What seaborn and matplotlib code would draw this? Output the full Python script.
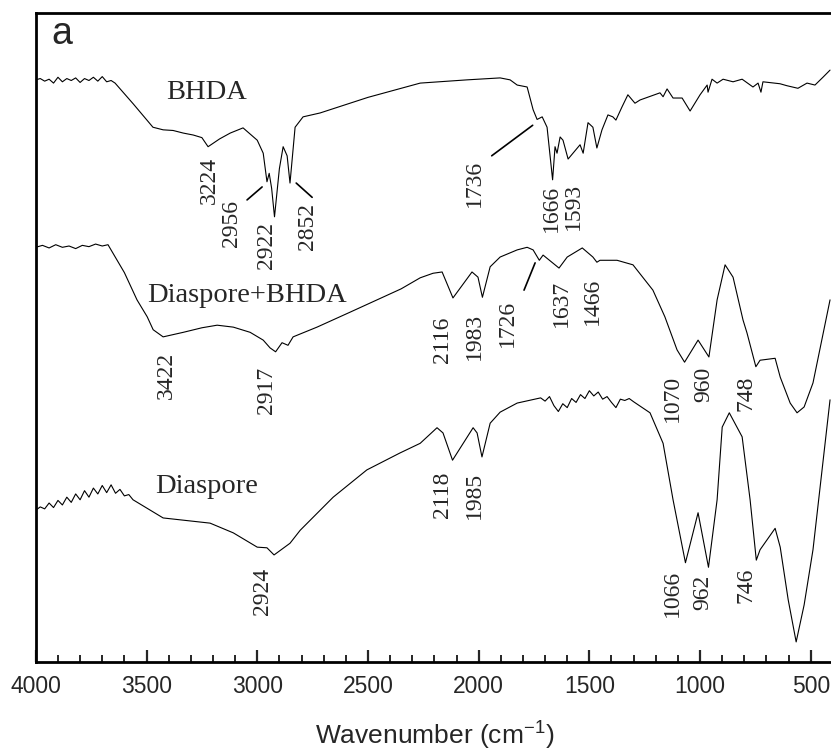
import numpy as np
import pandas as pd
import matplotlib
matplotlib.use('Agg')
import matplotlib.pyplot as plt
import seaborn as sns

# ~~~~~~~~~~~~~~~~~~~~~~~~~~~ data ~~~~~~~~~~~~~~~~~~~~~~~~~~~ #
# wavenumber (cm-1) and transmittance (a.u., traces offset)
bhda_wn = [4000, 3980, 3960, 3940, 3920, 3900, 3880, 3860, 3840, 3820, 3800, 3780, 3760,
           3740, 3720, 3700, 3680, 3660, 3642, 3560, 3471, 3425, 3380, 3334, 3289, 3250,
           3222, 3170, 3122, 3064, 3000, 2973, 2956, 2946, 2935, 2922, 2900, 2883, 2865,
           2852, 2829, 2793, 2716, 2500, 2264, 2052, 1903, 1858, 1826, 1781, 1754, 1736,
           1713, 1691, 1666, 1655, 1646, 1632, 1619, 1596, 1542, 1528, 1506, 1484, 1466,
           1443, 1416, 1394, 1380, 1353, 1326, 1294, 1271, 1181, 1167, 1149, 1122, 1081,
           1045, 1000, 968, 964, 946, 923, 896, 851, 810, 761, 738, 725, 716, 639, 608,
           558, 517, 481, 445, 413]
bhda_t = [89.7, 89.9, 89.5, 89.8, 89.2, 90.1, 89.4, 89.9, 89.6, 90.0, 89.3, 89.9, 89.6,
          90.1, 89.5, 90.2, 89.4, 89.6, 89.2, 86.0, 82.4, 82.0, 81.9, 81.5, 81.2, 80.8,
          79.4, 80.6, 81.5, 82.3, 80.4, 78.4, 74.0, 75.3, 73.0, 68.6, 76.0, 79.4, 78.0,
          73.8, 82.4, 84.0, 84.6, 87.0, 89.2, 89.7, 90.0, 89.7, 88.9, 88.6, 85.1, 83.6,
          84.0, 82.4, 74.3, 79.4, 78.4, 80.9, 80.4, 77.5, 79.7, 78.4, 83.1, 82.4, 79.2,
          82.0, 84.3, 84.0, 83.5, 85.5, 87.4, 86.1, 86.6, 87.7, 87.1, 88.3, 86.9, 86.9,
          84.9, 87.4, 88.9, 87.8, 89.8, 89.2, 89.8, 89.4, 89.8, 88.6, 89.2, 87.8, 89.4,
          89.1, 88.8, 88.4, 89.2, 88.9, 90.1, 91.2]

mix_wn = [4000, 3970, 3940, 3910, 3880, 3850, 3820, 3790, 3760, 3730, 3700, 3674, 3600,
          3543, 3497, 3470, 3425, 3334, 3250, 3181, 3108, 3032, 2973, 2942, 2917, 2888,
          2861, 2838, 2730, 2581, 2459, 2350, 2264, 2206, 2165, 2116, 2030, 2003, 1983,
          1948, 1903, 1826, 1781, 1754, 1726, 1709, 1637, 1600, 1532, 1484, 1466, 1452,
          1375, 1303, 1213, 1159, 1104, 1070, 1009, 960, 923, 887, 851, 806, 788, 748,
          729, 661, 638, 593, 562, 530, 490, 413]
mix_t = [63.9, 64.2, 63.8, 64.3, 63.9, 64.1, 63.7, 64.2, 64.0, 64.4, 64.1, 64.3, 60.0,
         55.8, 53.2, 51.2, 50.1, 50.8, 51.5, 51.9, 51.6, 50.8, 49.6, 48.4, 47.8, 49.2,
         48.8, 50.1, 51.6, 53.9, 55.8, 57.5, 59.2, 59.9, 60.1, 56.1, 60.1, 59.3, 56.2,
         60.9, 62.4, 63.5, 63.9, 63.5, 61.9, 62.7, 60.7, 62.4, 63.8, 62.4, 61.6, 61.9,
         61.9, 61.2, 57.3, 53.2, 48.1, 46.2, 49.6, 47.0, 55.8, 61.2, 59.3, 52.7, 50.7,
         45.5, 46.5, 46.8, 43.9, 39.9, 38.4, 39.3, 43.0, 55.8]

dia_wn = [4000, 3980, 3960, 3940, 3920, 3900, 3880, 3860, 3840, 3820, 3800, 3780, 3760,
          3740, 3720, 3700, 3680, 3660, 3640, 3620, 3600, 3580, 3561, 3425, 3213, 3108,
          3000, 2956, 2924, 2852, 2806, 2657, 2505, 2356, 2264, 2188, 2161, 2118, 2025,
          2007, 1985, 1948, 1903, 1826, 1720, 1700, 1680, 1660, 1640, 1620, 1600, 1580,
          1560, 1540, 1520, 1500, 1480, 1460, 1440, 1420, 1400, 1380, 1360, 1340, 1320,
          1300, 1226, 1167, 1122, 1066, 1009, 962, 923, 900, 868, 810, 774, 746, 729,
          661, 638, 602, 566, 530, 490, 413]
dia_t = [23.4, 23.9, 23.6, 24.5, 23.8, 24.9, 24.2, 25.4, 24.6, 25.9, 25.0, 26.4, 25.4,
         26.8, 25.9, 27.2, 26.1, 27.3, 26.0, 26.6, 25.6, 25.8, 25.0, 22.2, 21.4, 19.9,
         17.7, 17.6, 16.5, 18.3, 20.3, 25.4, 29.6, 32.2, 33.7, 36.1, 35.3, 31.1, 36.1,
         35.3, 31.6, 36.8, 38.5, 39.9, 40.7, 40.2, 40.9, 39.5, 38.6, 39.8, 39.2, 40.6,
         40.0, 41.2, 40.6, 41.8, 41.0, 41.6, 40.5, 40.9, 40.0, 39.2, 40.5, 40.3, 40.6,
         40.1, 38.4, 33.7, 25.0, 15.3, 23.0, 14.6, 25.0, 36.2, 38.4, 34.7, 25.0, 15.7,
         17.3, 20.6, 17.7, 9.6, 3.1, 8.8, 17.3, 40.4]

sample_names = ['BHDA', 'Diaspore+BHDA', 'Diaspore']

# peak labels: text, label x (cm-1), label top (a.u.)
peak_labels = [('3224', 3218, 77.8), ('2956', 3114, 71.2), ('2922', 2960, 67.8),
               ('2852', 2771, 70.7), ('1736', 2021, 77.3), ('1666', 1673, 73.5),
               ('1593', 1574, 73.8),
               ('3422', 3412, 47.8), ('2917', 2956, 45.5), ('2116', 2161, 53.2),
               ('1983', 2021, 53.8), ('1726', 1868, 55.8), ('1637', 1628, 58.9),
               ('1466', 1484, 59.2), ('1070', 1127, 44.2), ('960', 983, 45.5),
               ('748', 793, 44.2),
               ('2924', 2974, 14.5), ('2118', 2161, 29.3), ('1985', 2021, 29.3),
               ('1066', 1127, 14.2), ('962', 987, 13.4), ('746', 793, 14.6)]

# ~~~~~~~~~~~~~~~~~~~~~~~~~~~~~~~~ plotting ~~~~~~~~~~~~~~~~~~~~~~~~~~~~~~~~ #
df = pd.concat([
    pd.DataFrame({'wn': bhda_wn, 't': bhda_t, 'sample': sample_names[0]}),
    pd.DataFrame({'wn': mix_wn, 't': mix_t, 'sample': sample_names[1]}),
    pd.DataFrame({'wn': dia_wn, 't': dia_t, 'sample': sample_names[2]}),
])

sns.set_style("ticks")
plt.rcParams['font.family'] = ['Liberation Sans', 'DejaVu Sans']
plt.rcParams['mathtext.fontset'] = 'custom'
plt.rcParams['mathtext.rm'] = 'Liberation Sans'

fig = plt.figure(figsize=(8.31, 7.56), dpi=100)
ax = fig.add_axes([0.0431, 0.1243, 0.9592, 0.8585])
sns.lineplot(data=df, x='wn', y='t', units='sample', estimator=None, sort=False,
             color='black', linewidth=0.8, ax=ax, legend=False)

ax.set_xlim(4000, 400)
ax.set_ylim(0, 100)
ax.set_xticks(np.arange(4000, 400, -500))
ax.set_xticks(np.arange(4000, 400, -100), minor=True)
ax.set_yticks([])
ax.tick_params(axis='x', which='major', direction='in', length=9, width=1.6,
               labelsize=16.5, pad=9, top=False)
ax.tick_params(axis='x', which='minor', direction='in', length=5, width=1.4, top=False)
for s in ax.spines.values():
    s.set_linewidth(2.0)
    s.set_color('black')
ax.set_xlabel('Wavenumber (cm$^{\\mathrm{-1}}$)', fontsize=19, labelpad=15)
ax.set_ylabel('')

serif = ['Liberation Serif', 'DejaVu Serif']
# sample names
name_pos = [(3227, 86.7), (3046, 55.5), (3227, 26.0)]
for name, (nx, ny) in zip(sample_names, name_pos):
    ax.text(nx, ny, name, family=serif, fontsize=20.5, ha='center', va='baseline')

for txt, lx, ly in peak_labels:
    ax.text(lx, ly, txt, family=serif, fontsize=17, rotation=90,
            ha='center', va='top')

# leader lines
leaders = [((3046, 71.2), (2978, 73.2)), ((2824, 73.8), (2752, 71.6)),
           ((1941, 78.0), (1756, 82.7)), ((1795, 57.3), (1745, 61.5))]
for (x0, y0), (x1, y1) in leaders:
    ax.plot([x0, x1], [y0, y1], color='black', linewidth=1.2)

ax.text(3930, 95.2, 'a', fontsize=27, ha='left', va='baseline')

plt.savefig('out.png', dpi=100)
